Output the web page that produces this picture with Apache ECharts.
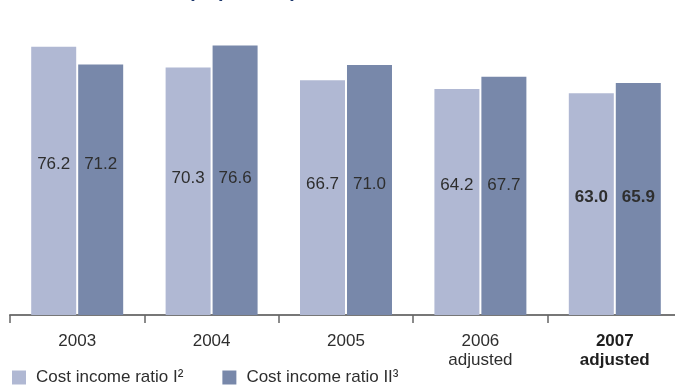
<!DOCTYPE html>
<html>
<head>
<meta charset="utf-8">
<script src="https://cdn.jsdelivr.net/npm/echarts@6/dist/echarts.min.js"></script>
<style>
  html, body { margin: 0; padding: 0; background: #fff; overflow: hidden; }
  /* the axis runs a little past the right edge of the window */
  #chart { width: 682px; height: 385px; }
</style>
</head>
<body>
<div id="chart"></div>
<script>
// Cost income ratios per year, in percent
const years = ['2003', '2004', '2005', '2006', '2007'];
const yearNotes = ['', '', '', 'adjusted', 'adjusted'];
const ratioI = [76.2, 70.3, 66.7, 64.2, 63.0];
const ratioII = [71.2, 76.6, 71.0, 67.7, 65.9];
const seriesNames = ['Cost income ratio I²', 'Cost income ratio II³'];

// Styling
const FONT = '"Liberation Sans", Arial, sans-serif';
const TEXT = '#2e2e2e';
const lightColor = '#b0b8d3';
const darkColor = '#7888aa';
const highlightYear = '2007';
// vertical placement of the value labels inside each year's bars (px above the base line)
const labelLift = [142, 128, 122, 121, 109];

const chart = echarts.init(document.getElementById('chart'), null, { renderer: 'canvas' });

function barData(values) {
  return values.map((v, i) => ({
    value: v,
    label: {
      distance: labelLift[i],
      fontWeight: years[i] === highlightYear ? 'bold' : 'normal'
    }
  }));
}

const labelStyle = {
  show: true,
  position: 'insideBottom',
  color: TEXT,
  fontSize: 17,
  fontFamily: FONT,
  formatter: p => p.value.toFixed(1)
};

chart.setOption({
  animation: false,
  graphic: [
    {
      type: 'text', right: 682 - 184, top: -19,
      style: { text: 'Cost income ratio', font: 'bold 20px ' + FONT, fill: '#1f3a6e' }
    },
    {
      type: 'text', left: 188, top: -19,
      style: { text: '(in percent)', font: 'bold 20px ' + FONT, fill: '#1f3a6e' }
    }
  ],
  grid: { left: 10, top: 0, right: 0, height: 315 },
  legend: {
    left: 12, top: 369, padding: 0,
    itemWidth: 14, itemHeight: 14, itemGap: 39,
    icon: 'rect',
    textStyle: { fontSize: 17, fontFamily: FONT, color: TEXT, padding: [0, 0, 0, 5] },
    data: seriesNames
  },
  xAxis: {
    type: 'category',
    data: years,
    axisLine: { lineStyle: { color: '#777', width: 2 } },
    axisTick: { show: true, length: 8, lineStyle: { color: '#666', width: 1.5 } },
    axisLabel: {
      margin: 17,
      fontSize: 17,
      fontFamily: FONT,
      color: TEXT,
      lineHeight: 19,
      formatter: (val, idx) => {
        const note = yearNotes[idx];
        const style = val === highlightYear ? 'b' : 'n';
        return note ? `{${style}|${val}}\n{${style}|${note}}` : `{${style}|${val}}`;
      },
      rich: {
        n: { fontSize: 17, fontFamily: FONT, color: TEXT, lineHeight: 19 },
        b: { fontSize: 17, fontFamily: FONT, color: '#1e1e1e', fontWeight: 'bold', lineHeight: 19 }
      }
    }
  },
  yAxis: {
    type: 'value', min: 0, max: 89.5,
    show: false,
    splitLine: { show: false }
  },
  series: [
    {
      name: seriesNames[0], type: 'bar',
      data: barData(ratioI),
      barWidth: 45, barGap: '4.4%',
      itemStyle: { color: lightColor },
      label: labelStyle
    },
    {
      name: seriesNames[1], type: 'bar',
      data: barData(ratioII),
      barWidth: 45, barGap: '4.4%',
      itemStyle: { color: darkColor },
      label: labelStyle
    }
  ]
});
</script>
</body>
</html>
